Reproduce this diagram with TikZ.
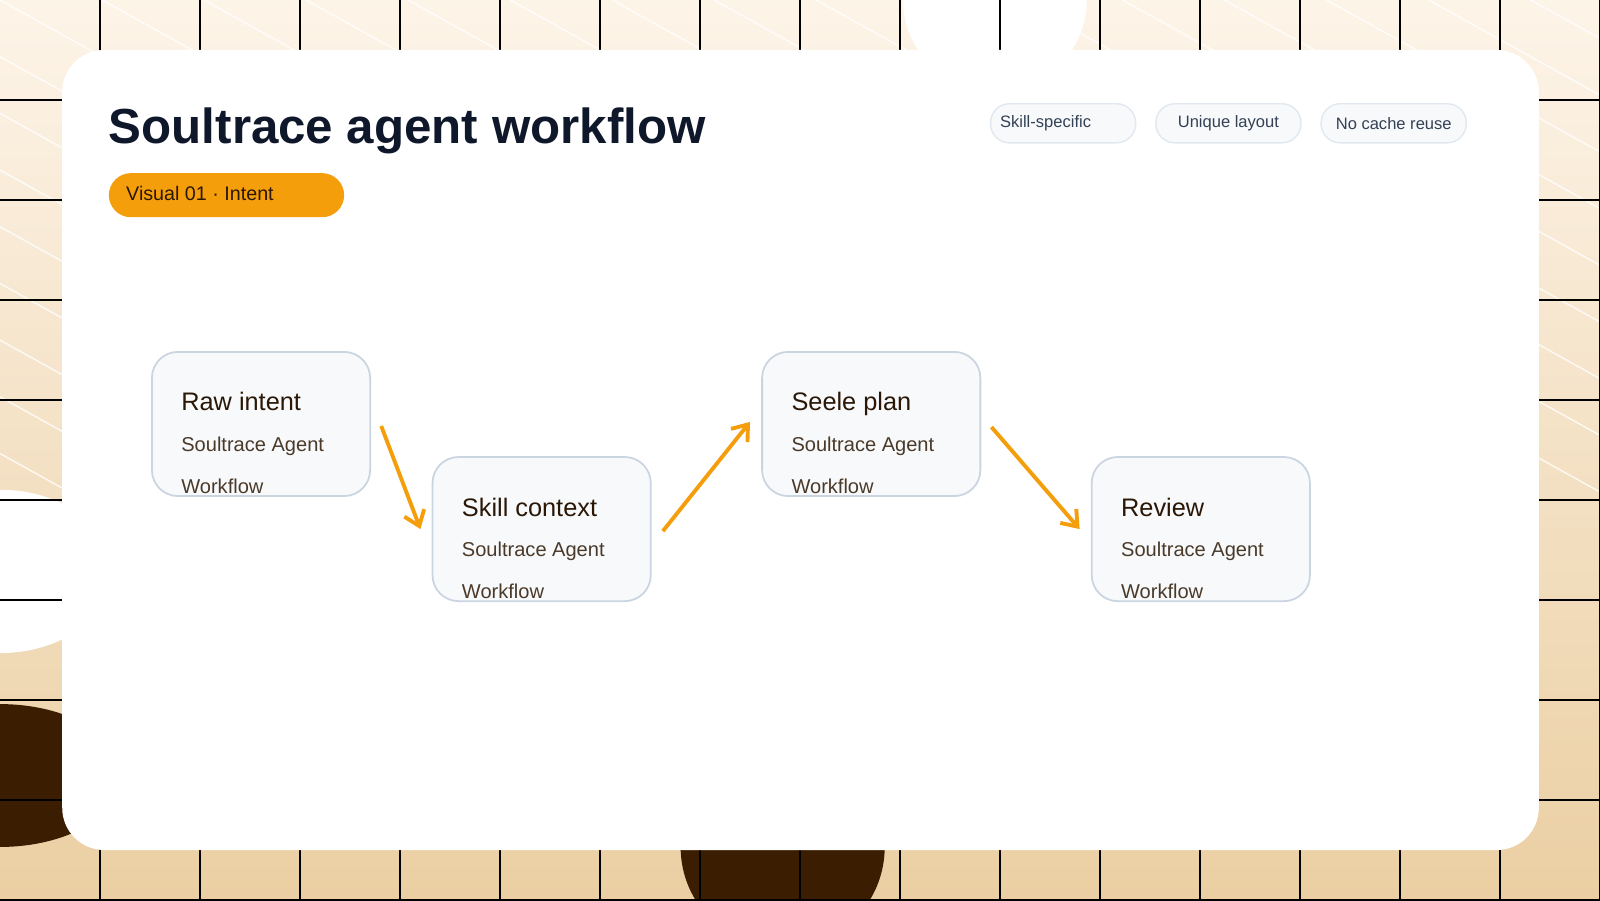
\documentclass[tikz,border=0pt]{standalone}
\usepackage{fontspec}
\setmainfont{Liberation Sans}
\usetikzlibrary{calc,arrows.meta}
\definecolor{cream}{HTML}{FDF4E8}
\definecolor{tan}{HTML}{EBCFA3}
\definecolor{darkb}{HTML}{3B1E02}
\definecolor{orng}{HTML}{F59E0B}
\definecolor{boxfill}{HTML}{F7F9FB}
\definecolor{boxline}{HTML}{CBD5E1}
\definecolor{tagline}{HTML}{E2E8F0}
\definecolor{titlec}{HTML}{0F172A}
\definecolor{headc}{HTML}{2A1705}
\definecolor{subc}{HTML}{4B3A2A}
\definecolor{tagc}{HTML}{334155}
\begin{document}
\begin{tikzpicture}[x=0.0102cm,y=-0.0102cm,
  stepbox/.style={draw=boxline,line width=0.5pt,fill=boxfill,rounded corners=0.26cm,minimum width=2.18cm,minimum height=1.44cm,inner sep=0pt},
  tagbox/.style={draw=tagline,line width=0.4pt,fill=boxfill,rounded corners=0.19cm,minimum width=1.45cm,minimum height=0.39cm,inner sep=0pt,font=\fontsize{4.7pt}{5.5pt}\selectfont,text=tagc},
  flow/.style={draw=orng,line width=1.1pt,-{Straight Barb[length=4pt,width=6pt]}}]
\useasboundingbox (0,0) rectangle (1568,882);
\shade[top color=cream,bottom color=tan] (0,0) rectangle (1568,882);
\begin{scope}
\clip (0,0) rectangle (1568,882);
\foreach \k in {-900,-800,...,1600}{
  \draw[white,line width=0.4pt,opacity=0.8] (\k,0) -- ++(900,500);
}
\end{scope}
\fill[white] (975,0) circle (90);
\fill[white] (0,560) ellipse (110 and 80);
\fill[darkb] (0,760) ellipse (120 and 70);
\fill[darkb] (767,830) circle (100);
\foreach \x in {98,196,...,1568} \draw[black,line width=0.4pt] (\x,0) -- (\x,882);
\foreach \y in {98,196,...,882} \draw[black,line width=0.4pt] (0,\y) -- (1568,\y);
\fill[white,rounded corners=0.42cm] (61,49) rectangle (1508,833);
\node[anchor=west,inner sep=0pt,text=titlec,font=\bfseries\fontsize{14pt}{16pt}\selectfont] (title) at (106,128) {Soultrace agent workflow};
\node[fill=orng,rounded corners=0.22cm,minimum width=2.35cm,minimum height=0.44cm,inner sep=0pt,anchor=north west] (pill) at (106,169) {};
\node[anchor=west,inner sep=0pt,text=headc,font=\fontsize{5.6pt}{6.5pt}\selectfont] (pilltext) at (123,190) {Visual 01 · Intent};
\node[tagbox,anchor=north west] (t1) at (970,101) {\hspace*{-0.35cm}Skill-specific};
\node[tagbox,anchor=north west] (t2) at (1132,101) {Unique layout};
\node[tagbox,anchor=north west] (t3) at (1294,101) {No cache reuse};
\newcommand{\stepcontent}[1]{\begin{minipage}[t]{1.8cm}\raggedright{\color{headc}\fontsize{7.2pt}{8pt}\selectfont #1}\par\vspace{5pt}{\color{subc}\fontsize{5.7pt}{6.5pt}\selectfont Soultrace Agent\\Workflow}\end{minipage}}
\node[stepbox,anchor=north west] (a) at (148,344) {};
\node[stepbox,anchor=north west] (b) at (423,447) {};
\node[stepbox,anchor=north west] (c) at (746,344) {};
\node[stepbox,anchor=north west] (d) at (1069,447) {};
\foreach \n/\t in {a/Raw intent,b/Skill context,c/Seele plan,d/Review}{
  \node[anchor=north west,inner sep=0pt] at ($(\n.north west)+(29,40)$) {\stepcontent{\t}};
}
\coordinate (a1) at ($(a.east)+(10,2)$);
\coordinate (b1) at ($(b.west)+(-11,0)$);
\coordinate (b2) at ($(b.east)+(11,2)$);
\coordinate (c1) at ($(c.west)+(-11,-2)$);
\coordinate (c2) at ($(c.east)+(10,3)$);
\coordinate (d1) at ($(d.west)+(-11,0)$);
\draw[flow] (a1) -- (b1);
\draw[flow] (b2) -- (c1);
\draw[flow] (c2) -- (d1);
\end{tikzpicture}
\end{document}
